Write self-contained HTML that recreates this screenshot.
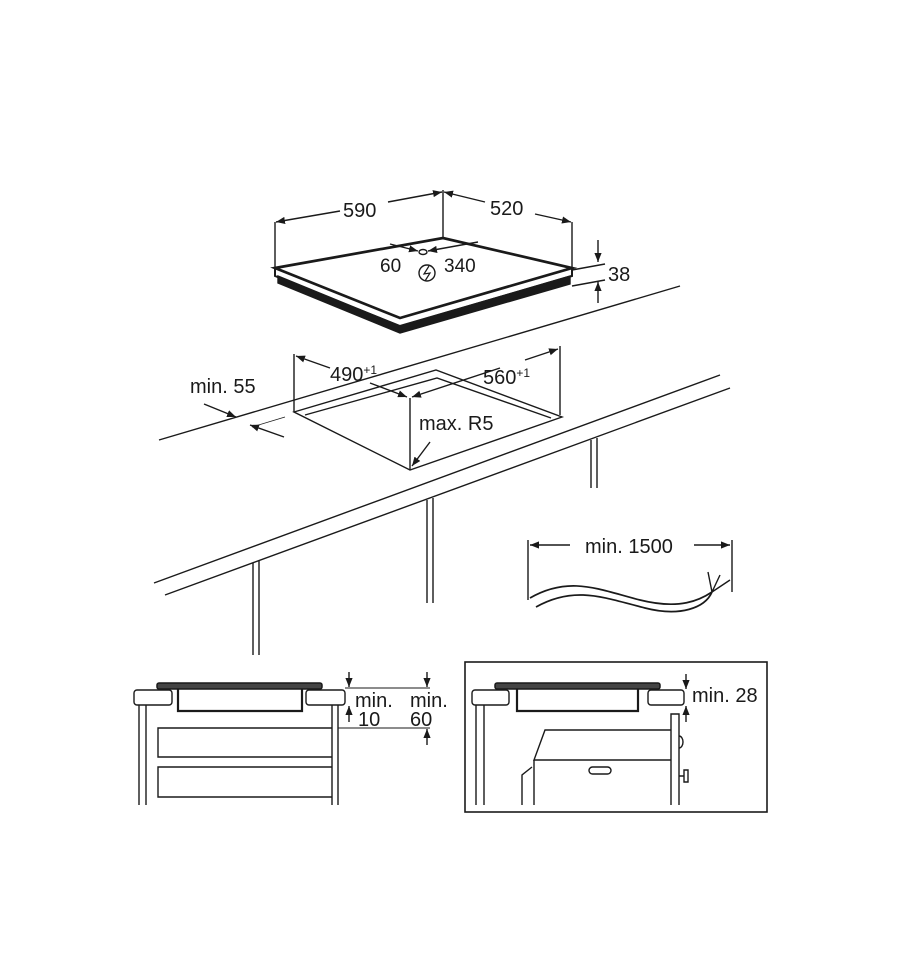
<!DOCTYPE html>
<html><head><meta charset="utf-8"><style>
html,body{margin:0;padding:0;background:#fff;}
svg{display:block}
text{font-family:"Liberation Sans",Arial,sans-serif;fill:#1a1a1a;}
</style></head><body>
<svg width="900" height="962" viewBox="0 0 900 962" xmlns="http://www.w3.org/2000/svg">
<defs>
<marker id="a" viewBox="0 0 10 10" refX="10" refY="5" markerWidth="9" markerHeight="9" orient="auto-start-reverse" markerUnits="userSpaceOnUse">
<path d="M0,1 L10,5 L0,9 z" fill="#1a1a1a"/></marker>
</defs>
<g stroke="#1a1a1a" fill="none" stroke-width="1.4">
<!-- cooktop -->
<path d="M278,283 L400,333 L570,284 L570,276 L400,326 L278,276 z" fill="#1a1a1a"/>
<path d="M275,268 L443,238 L572,268 L400,318 z" stroke-width="2.7" fill="#fff"/>
<path d="M275,268 L275,276 L400,326 L572,276 L572,268" stroke-width="2"/>
<!-- 590/520 dims -->
<line x1="275" y1="268" x2="275" y2="222"/>
<line x1="443" y1="238" x2="443" y2="190"/>
<line x1="572" y1="268" x2="572" y2="222"/>
<line x1="340" y1="211" x2="276" y2="222" marker-end="url(#a)"/>
<line x1="388" y1="202" x2="442" y2="192" marker-end="url(#a)"/>
<line x1="485" y1="202" x2="444" y2="192" marker-end="url(#a)"/>
<line x1="535" y1="214" x2="571" y2="222" marker-end="url(#a)"/>
<!-- 60/340 -->
<line x1="390" y1="244" x2="418" y2="251" marker-end="url(#a)"/>
<line x1="478" y1="242" x2="428" y2="251" marker-end="url(#a)"/>
<ellipse cx="423" cy="252" rx="4" ry="2.5"/>
<circle cx="427" cy="273" r="8"/>
<path d="M429,266 L424,274 L430,273 L425,281" stroke-width="1.2"/>
<!-- 38 -->
<line x1="572" y1="270" x2="605" y2="264"/>
<line x1="572" y1="286" x2="605" y2="280"/>
<line x1="598" y1="240" x2="598" y2="262" marker-end="url(#a)"/>
<line x1="598" y1="303" x2="598" y2="282" marker-end="url(#a)"/>
<!-- countertop -->
<line x1="159" y1="440" x2="680" y2="286"/>
<line x1="154" y1="583" x2="720" y2="375"/>
<line x1="165" y1="595" x2="730" y2="388"/>
<line x1="253" y1="563" x2="253" y2="655"/><line x1="259" y1="561" x2="259" y2="655"/>
<line x1="427" y1="500" x2="427" y2="603"/><line x1="433" y1="498" x2="433" y2="603"/>
<line x1="591" y1="440" x2="591" y2="488"/><line x1="597" y1="438" x2="597" y2="488"/>
<!-- cutout -->
<path d="M294,412 L436,370 L562,417 L410,470 z" fill="#fff"/>
<path d="M305,415 L437,378 L551,418"/>
<line x1="294" y1="412" x2="294" y2="354"/>
<line x1="560" y1="415" x2="560" y2="346"/>
<line x1="410" y1="470" x2="410" y2="398"/>
<line x1="330" y1="368" x2="296" y2="356" marker-end="url(#a)"/>
<line x1="370" y1="383" x2="407" y2="397" marker-end="url(#a)"/>
<line x1="500" y1="368" x2="412" y2="397" marker-end="url(#a)"/>
<line x1="525" y1="360" x2="558" y2="349" marker-end="url(#a)"/>
<line x1="430" y1="442" x2="412" y2="466" marker-end="url(#a)"/>
<line x1="204" y1="404" x2="236" y2="417" marker-end="url(#a)"/>
<line x1="284" y1="437" x2="250" y2="425" marker-end="url(#a)"/>
<line x1="252" y1="427" x2="285" y2="417" stroke-width="0.8"/>
<!-- cable -->
<line x1="528" y1="540" x2="528" y2="600"/>
<line x1="732" y1="540" x2="732" y2="592"/>
<line x1="570" y1="545" x2="530" y2="545" marker-end="url(#a)"/>
<line x1="694" y1="545" x2="730" y2="545" marker-end="url(#a)"/>
<path d="M530,598 C570,575 600,590 640,600 C680,610 700,600 712,592" stroke-width="1.7"/>
<path d="M536,607 C575,585 605,598 645,608 C680,617 705,608 712,592" stroke-width="1.7"/>
<path d="M712,592 L708,572 M712,592 L720,575 M712,592 L730,580"/>
<!-- bottom left -->
<rect x="157" y="683" width="165" height="6" rx="2" fill="#444" stroke-width="1.5"/>
<rect x="134" y="690" width="38" height="15" rx="3"/>
<rect x="306" y="690" width="39" height="15" rx="3"/>
<path d="M178,689 L178,711 L302,711 L302,689" stroke-width="2.2"/>
<line x1="139" y1="705" x2="139" y2="805"/><line x1="146" y1="705" x2="146" y2="805"/>
<line x1="332" y1="705" x2="332" y2="805"/><line x1="338" y1="705" x2="338" y2="805"/>
<path d="M332,728 L158,728 L158,757 L332,757"/>
<path d="M332,767 L158,767 L158,797 L332,797"/>
<line x1="345" y1="688" x2="430" y2="688" stroke-width="0.9"/>
<line x1="338" y1="728" x2="430" y2="728" stroke-width="0.9"/>
<line x1="349" y1="672" x2="349" y2="687" marker-end="url(#a)"/>
<line x1="349" y1="722" x2="349" y2="706" marker-end="url(#a)"/>
<line x1="427" y1="672" x2="427" y2="687" marker-end="url(#a)"/>
<line x1="427" y1="745" x2="427" y2="729" marker-end="url(#a)"/>
<!-- bottom right -->
<rect x="465" y="662" width="302" height="150" stroke-width="1.6"/>
<rect x="495" y="683" width="165" height="6" rx="2" fill="#444" stroke-width="1.5"/>
<rect x="472" y="690" width="37" height="15" rx="3"/>
<rect x="648" y="690" width="36" height="15" rx="3"/>
<path d="M517,689 L517,711 L638,711 L638,689" stroke-width="2.2"/>
<line x1="476" y1="705" x2="476" y2="805"/><line x1="484" y1="705" x2="484" y2="805"/>
<path d="M671,805 L671,714 L679,714 L679,805"/>
<path d="M671,730 L545,730 L534,760 L671,760"/>
<line x1="534" y1="760" x2="534" y2="805"/>
<path d="M522,805 L522,775 L532,767"/>
<rect x="589" y="767" width="22" height="7" rx="3.5"/>
<path d="M679,736 a4,6 0 0 1 0,12"/>
<path d="M679,776 L684,776 M684,770 L684,782 L688,782 L688,770 z"/>
<line x1="686" y1="674" x2="686" y2="689" marker-end="url(#a)"/>
<line x1="686" y1="722" x2="686" y2="706" marker-end="url(#a)"/>
</g>
<g font-size="20">
<text x="343" y="217">590</text>
<text x="490" y="215">520</text>
<text x="380" y="272" font-size="19">60</text>
<text x="444" y="272" font-size="19">340</text>
<text x="608" y="281">38</text>
<text x="330" y="381">490<tspan font-size="12" dy="-7">+1</tspan></text>
<text x="483" y="384">560<tspan font-size="12" dy="-7">+1</tspan></text>
<text x="190" y="393">min. 55</text>
<text x="419" y="430">max. R5</text>
<text x="585" y="553">min. 1500</text>
<text x="355" y="707">min.</text>
<text x="358" y="726">10</text>
<text x="410" y="707">min.</text>
<text x="410" y="726">60</text>
<text x="692" y="702">min. 28</text>
</g>
</svg>
</body></html>
